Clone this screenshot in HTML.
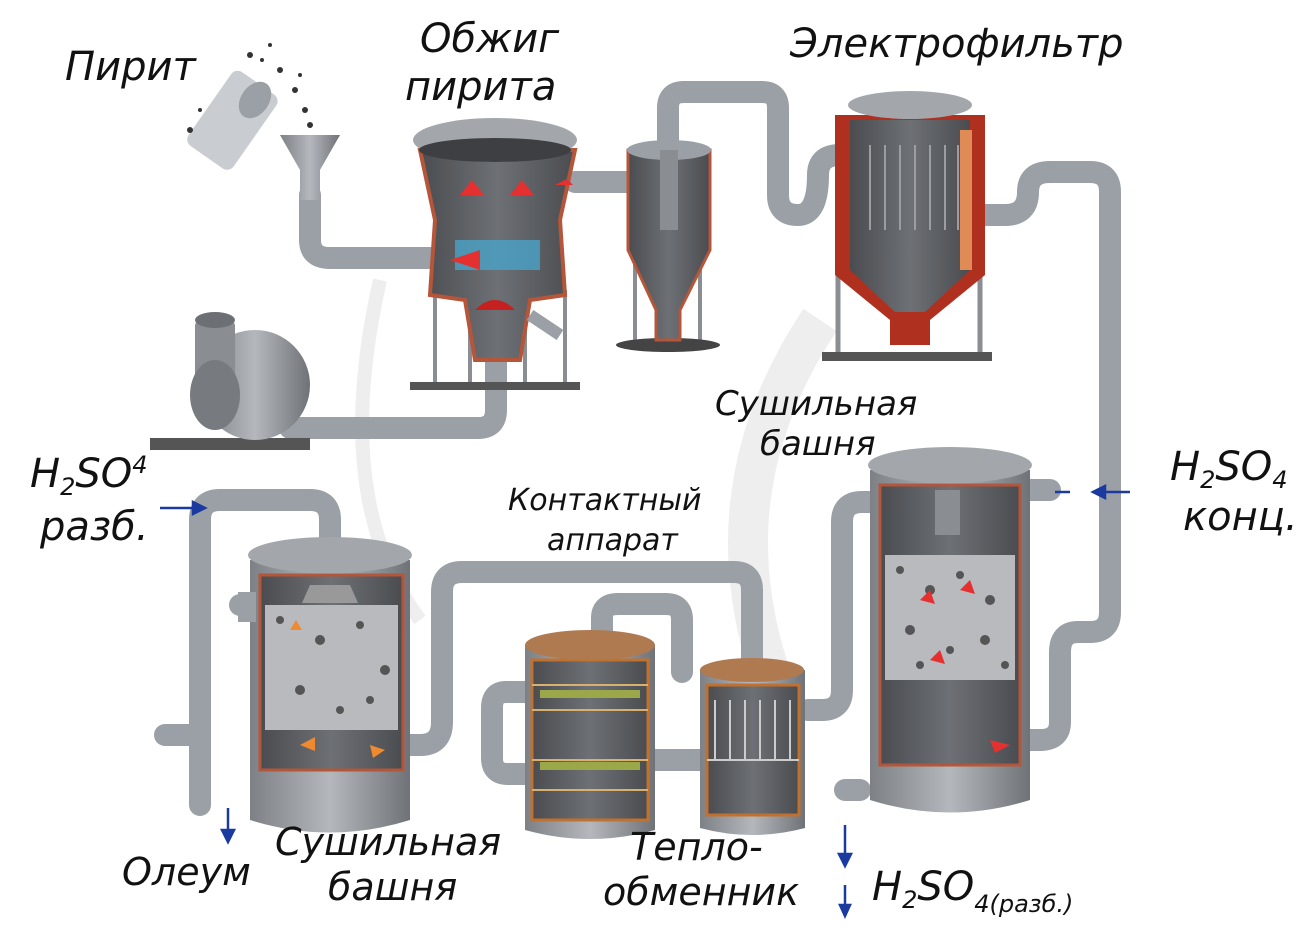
<!DOCTYPE html>
<html><head><meta charset="utf-8"><style>
html,body{margin:0;padding:0;background:#fff;}
svg{display:block;}
text{font-family:"DejaVu Sans","Liberation Sans",sans-serif;font-style:italic;fill:#111;}
</style></head><body>
<svg width="1300" height="944" viewBox="0 0 1300 944" xmlns="http://www.w3.org/2000/svg">
<defs>
<linearGradient id="pv" x1="0" x2="1"><stop offset="0" stop-color="#7d8186"/><stop offset=".5" stop-color="#b4b8bd"/><stop offset="1" stop-color="#6f7378"/></linearGradient>
<linearGradient id="in" x1="0" x2="1"><stop offset="0" stop-color="#4a4c50"/><stop offset=".5" stop-color="#6d7074"/><stop offset="1" stop-color="#4a4c50"/></linearGradient>
</defs>
<!-- faint watermark -->
<path d="M380,280 Q330,500 420,620" stroke="#eee" stroke-width="14" fill="none"/>
<path d="M820,320 Q700,500 780,700" stroke="#eee" stroke-width="40" fill="none"/>

<g fill="none" stroke="#9aa0a6" stroke-width="22" stroke-linecap="round" stroke-linejoin="round">
<path d="M310,195 L310,240 Q310,258 330,258 L430,258"/>
<path d="M575,182 L635,182"/>
<path d="M668,140 L668,108 Q668,92 684,92 L762,92 Q778,92 778,108 L778,195 Q778,215 798,215 Q818,215 818,175 Q818,155 840,155"/>
<path d="M985,215 L1005,215 Q1028,215 1028,192 Q1028,172 1050,172 L1090,172 Q1110,172 1110,192 L1110,612 Q1110,632 1090,632 L1078,632 Q1060,632 1060,652 L1060,722 Q1060,740 1040,740 L1030,740"/>
<path d="M290,428 L478,428 Q496,428 496,410 L496,330"/>
<path d="M878,502 L862,502 Q842,502 842,522 L842,690 Q842,710 822,710 L808,710"/>
<path d="M752,665 L752,590 Q752,572 734,572 L462,572 Q442,572 442,592 L442,722 Q442,745 420,745 L408,745"/>
<path d="M200,805 L200,520 Q200,500 220,500 L310,500 Q330,500 330,520 L330,540"/>
<path d="M528,692 L506,692 Q492,692 492,708 L492,758 Q492,774 508,774 L528,774"/>
<path d="M602,640 L602,618 Q602,604 618,604 L666,604 Q682,604 682,620 L682,672"/>
<path d="M655,760 L700,760"/>
<path d="M165,735 L200,735"/>
<path d="M845,790 L860,790"/>
<path d="M1030,490 L1050,490"/>
<path d="M240,605 L250,605"/>
</g>

<!-- pyrite hopper -->
<rect x="205" y="75" width="55" height="90" rx="8" fill="#c9ccd0" transform="rotate(35 232 120)"/>
<ellipse cx="255" cy="100" rx="14" ry="20" fill="#9aa0a6" transform="rotate(35 255 100)"/>
<g fill="#333"><circle cx="280" cy="70" r="3"/><circle cx="295" cy="90" r="3"/><circle cx="305" cy="110" r="3"/><circle cx="250" cy="55" r="3"/><circle cx="270" cy="45" r="2"/><circle cx="190" cy="130" r="3"/><circle cx="200" cy="110" r="2"/><circle cx="310" cy="125" r="3"/><circle cx="262" cy="60" r="2"/><circle cx="300" cy="75" r="2"/></g>
<path d="M280,135 L340,135 L320,170 L320,200 L300,200 L300,170 Z" fill="url(#pv)"/>

<!-- roaster -->
<g stroke="#8a8e93" stroke-width="4"><line x1="435" y1="290" x2="435" y2="385"/><line x1="470" y1="300" x2="470" y2="385"/><line x1="525" y1="300" x2="525" y2="385"/><line x1="565" y1="290" x2="565" y2="385"/></g>
<rect x="410" y="382" width="170" height="8" fill="#555"/>
<path d="M420,150 L575,150 L560,220 L565,295 L530,300 L520,360 L475,360 L465,300 L430,295 L435,220 Z" fill="url(#in)" stroke="#b5553a" stroke-width="4"/>
<ellipse cx="495" cy="140" rx="82" ry="22" fill="#a3a7ac"/>
<ellipse cx="495" cy="150" rx="76" ry="12" fill="#3d3f42"/>
<path d="M455,240 L540,240 L540,270 L455,270 Z" fill="#4aa3c8" opacity=".8"/>
<path d="M475,310 Q495,290 515,310 Z" fill="#c62020"/>
<g fill="#e53030"><path d="M460,195 l12,-15 l12,15z"/><path d="M510,195 l12,-15 l12,15z"/><path d="M555,185 l18,0 l-6,-6z"/><path d="M450,260 l30,-10 l0,20z"/></g>
<path d="M530,315 L560,335" stroke="#9aa0a6" stroke-width="12"/>

<!-- cyclone -->
<g stroke="#8a8e93" stroke-width="4"><line x1="635" y1="250" x2="635" y2="345"/><line x1="700" y1="250" x2="700" y2="345"/></g>
<ellipse cx="668" cy="345" rx="52" ry="7" fill="#444"/>
<path d="M628,150 L710,150 L710,250 L680,310 L680,340 L656,340 L656,310 L628,250 Z" fill="url(#in)" stroke="#b5553a" stroke-width="3"/>
<ellipse cx="669" cy="150" rx="42" ry="10" fill="#9aa0a6"/>
<rect x="660" y="150" width="18" height="80" fill="#8a8e93"/>

<!-- e-filter -->
<g stroke="#8a8e93" stroke-width="5"><line x1="838" y1="270" x2="838" y2="355"/><line x1="980" y1="270" x2="980" y2="355"/></g>
<rect x="822" y="352" width="170" height="9" fill="#555"/>
<path d="M835,115 L985,115 L985,275 L930,320 L930,345 L890,345 L890,320 L835,275 Z" fill="#b03020"/>
<path d="M850,120 L970,120 L970,270 L925,312 L895,312 L850,270 Z" fill="url(#in)"/>
<ellipse cx="910" cy="105" rx="62" ry="14" fill="#a3a7ac"/>
<g stroke="#9a9da2" stroke-width="2"><line x1="870" y1="145" x2="870" y2="230"/><line x1="885" y1="145" x2="885" y2="230"/><line x1="900" y1="145" x2="900" y2="230"/><line x1="915" y1="145" x2="915" y2="230"/><line x1="930" y1="145" x2="930" y2="230"/><line x1="945" y1="145" x2="945" y2="230"/><line x1="958" y1="145" x2="958" y2="230"/></g>
<rect x="960" y="130" width="12" height="140" fill="#e08a55"/>

<!-- blower -->
<rect x="150" y="438" width="160" height="12" fill="#555"/>
<circle cx="255" cy="385" r="55" fill="url(#pv)"/>
<rect x="195" y="320" width="40" height="80" rx="6" fill="#8a8e93"/>
<ellipse cx="215" cy="320" rx="20" ry="8" fill="#6c7075"/>
<ellipse cx="215" cy="395" rx="25" ry="35" fill="#777b80"/>

<!-- drying tower right -->
<path d="M870,470 L1030,470 L1030,800 Q950,825 870,800 Z" fill="url(#pv)"/>
<rect x="880" y="485" width="140" height="280" fill="url(#in)" stroke="#b5553a" stroke-width="3"/>
<rect x="885" y="555" width="130" height="125" fill="#b8babd"/>
<g fill="#555"><circle cx="900" cy="570" r="4"/><circle cx="930" cy="590" r="5"/><circle cx="960" cy="575" r="4"/><circle cx="990" cy="600" r="5"/><circle cx="910" cy="630" r="5"/><circle cx="950" cy="650" r="4"/><circle cx="985" cy="640" r="5"/><circle cx="1005" cy="665" r="4"/><circle cx="920" cy="665" r="4"/></g>
<ellipse cx="950" cy="465" rx="82" ry="18" fill="#a3a7ac"/>
<path d="M935,490 L935,535 L960,535 L960,490 Z" fill="#8a8e93"/>
<g fill="#e53030"><path d="M920,600 l10,-10 l5,14z"/><path d="M960,590 l10,-10 l5,14z"/><path d="M930,660 l10,-10 l5,14z"/><path d="M990,740 l20,5 l-15,8z"/></g>

<!-- oleum tower -->
<path d="M250,560 L410,560 L410,820 Q330,845 250,820 Z" fill="url(#pv)"/>
<rect x="260" y="575" width="143" height="195" fill="url(#in)" stroke="#b5553a" stroke-width="3"/>
<rect x="265" y="605" width="133" height="125" fill="#b8babd"/>
<g fill="#555"><circle cx="280" cy="620" r="4"/><circle cx="320" cy="640" r="5"/><circle cx="360" cy="625" r="4"/><circle cx="385" cy="670" r="5"/><circle cx="300" cy="690" r="5"/><circle cx="340" cy="710" r="4"/><circle cx="370" cy="700" r="4"/></g>
<ellipse cx="330" cy="555" rx="82" ry="18" fill="#a3a7ac"/>
<path d="M310,585 L350,585 L358,603 L302,603 Z" fill="#999"/>
<rect x="238" y="592" width="18" height="30" fill="#9aa0a6"/>
<g fill="#f08a30"><path d="M290,630 l6,-10 l6,10z"/><path d="M300,745 l15,-8 l0,14z"/><path d="M370,745 l15,5 l-12,8z"/></g>

<!-- contact apparatus -->
<path d="M525,645 L655,645 L655,830 Q590,848 525,830 Z" fill="url(#pv)"/>
<rect x="532" y="660" width="116" height="160" fill="url(#in)" stroke="#c2702e" stroke-width="3"/>
<ellipse cx="590" cy="645" rx="65" ry="15" fill="#b07a50"/>
<g stroke="#d8b070" stroke-width="2"><line x1="532" y1="685" x2="648" y2="685"/><line x1="532" y1="710" x2="648" y2="710"/><line x1="532" y1="760" x2="648" y2="760"/><line x1="532" y1="790" x2="648" y2="790"/></g>
<rect x="540" y="690" width="100" height="8" fill="#9aa84a"/>
<rect x="540" y="762" width="100" height="8" fill="#9aa84a"/>

<!-- heat exchanger -->
<path d="M700,670 L805,670 L805,828 Q752,842 700,828 Z" fill="url(#pv)"/>
<rect x="707" y="685" width="92" height="130" fill="url(#in)" stroke="#c2702e" stroke-width="3"/>
<ellipse cx="752" cy="670" rx="52" ry="12" fill="#b07a50"/>
<g stroke="#ccc" stroke-width="2"><line x1="715" y1="700" x2="715" y2="760"/><line x1="730" y1="700" x2="730" y2="760"/><line x1="745" y1="700" x2="745" y2="760"/><line x1="760" y1="700" x2="760" y2="760"/><line x1="775" y1="700" x2="775" y2="760"/><line x1="790" y1="700" x2="790" y2="760"/><line x1="707" y1="760" x2="799" y2="760"/></g>

<!-- small blue arrows -->
<g stroke="#1a3aa0" stroke-width="2.5" fill="#1a3aa0">
<line x1="160" y1="508" x2="195" y2="508"/><path d="M205,508 l-12,-6 l0,12z"/>
<line x1="1130" y1="492" x2="1105" y2="492"/><path d="M1093,492 l12,-6 l0,12z"/>
<line x1="1070" y1="492" x2="1055" y2="492"/>
<line x1="228" y1="808" x2="228" y2="830"/><path d="M228,842 l-6,-12 l12,0z"/>
<line x1="845" y1="825" x2="845" y2="855"/><path d="M845,866 l-6,-12 l12,0z"/>
<line x1="845" y1="885" x2="845" y2="905"/><path d="M845,916 l-5,-11 l10,0z"/>
</g>

<!-- labels -->
<text x="65" y="80" font-size="40">Пирит</text>
<text x="420" y="52" font-size="40">Обжиг</text>
<text x="405" y="100" font-size="40">пирита</text>
<text x="790" y="57" font-size="40">Электрофильтр</text>
<text x="715" y="415" font-size="34">Сушильная</text>
<text x="760" y="455" font-size="34">башня</text>
<text x="30" y="487" font-size="40">H<tspan font-size="24" dy="8">2</tspan><tspan dy="-8">SO</tspan><tspan font-size="24" dy="-14">4</tspan></text>
<text x="40" y="540" font-size="40">разб.</text>
<text x="1170" y="480" font-size="40">H<tspan font-size="24" dy="8">2</tspan><tspan dy="-8">SO</tspan><tspan font-size="24" dy="8">4</tspan></text>
<text x="1183" y="530" font-size="40">конц.</text>
<text x="508" y="510" font-size="30">Контактный</text>
<text x="547" y="550" font-size="30">аппарат</text>
<text x="122" y="885" font-size="38">Олеум</text>
<text x="275" y="855" font-size="38">Сушильная</text>
<text x="328" y="900" font-size="38">башня</text>
<text x="630" y="860" font-size="38">Тепло-</text>
<text x="603" y="905" font-size="38">обменник</text>
<text x="872" y="900" font-size="40">H<tspan font-size="24" dy="8">2</tspan><tspan dy="-8">SO</tspan><tspan font-size="24" dy="12">4(разб.)</tspan></text>
</svg>
</body></html>
